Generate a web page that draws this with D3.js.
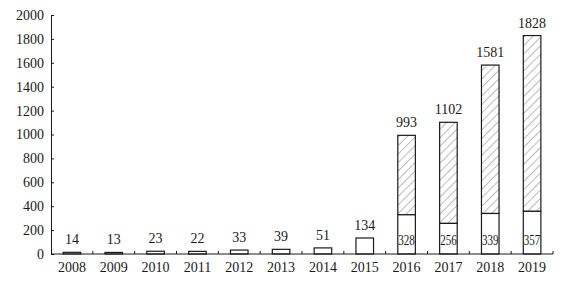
<!DOCTYPE html>
<html>
<head>
<meta charset="utf-8">
<script src="https://cdnjs.cloudflare.com/ajax/libs/d3/7.8.5/d3.min.js"></script>
<style>
  body { margin: 0; background: #fff; }
  text { font-family: "Liberation Serif", "Times New Roman", serif; fill: #1a1a1a; }
</style>
</head>
<body>
<div id="chart"></div>
<script>
var years = ['2008', '2009', '2010', '2011', '2012', '2013', '2014', '2015', '2016', '2017', '2018', '2019'];
var totals = [14, 13, 23, 22, 33, 39, 51, 134, 993, 1102, 1581, 1828];
// lower (plain) part of the stacked bars, null where the bar is not split
var lower = [null, null, null, null, null, null, null, null, 328, 256, 339, 357];
var yTicks = [0, 200, 400, 600, 800, 1000, 1200, 1400, 1600, 1800, 2000];

var W = 581,
    H = 294,
    margin = {top: 15, right: 28, bottom: 40, left: 51},
    INK = '#1a1a1a';

var svg = d3.select('#chart')
  .append('svg')
  .attr('width', W)
  .attr('height', H);

var defs = svg.append('defs');
defs.append('pattern')
  .attr('id', 'hatch')
  .attr('patternUnits', 'userSpaceOnUse')
  .attr('width', 6)
  .attr('height', 6)
  .attr('patternTransform', 'rotate(45)')
  .append('line')
  .attr('x1', 0).attr('y1', 0)
  .attr('x2', 0).attr('y2', 6)
  .attr('stroke', '#555')
  .attr('stroke-width', 0.8);

var x = d3.scaleBand()
  .domain(years)
  .range([margin.left, W - margin.right])
  .paddingInner(0.58)
  .paddingOuter(0.29);

var y = d3.scaleLinear()
  .domain([0, 2000])
  .range([H - margin.bottom, margin.top]);

var rows = years.map(function (yr, i) {
  return {year: yr, total: totals[i], lower: lower[i]};
});

// bars
var g = svg.append('g');

// hatched upper part
g.selectAll('rect.upper')
  .data(rows.filter(function (d) { return d.lower !== null; }))
  .enter()
  .append('rect')
  .attr('class', 'upper')
  .attr('x', function (d) { return x(d.year); })
  .attr('y', function (d) { return y(d.total); })
  .attr('width', x.bandwidth())
  .attr('height', function (d) { return y(d.lower) - y(d.total); })
  .attr('fill', 'url(#hatch)')
  .attr('stroke', INK)
  .attr('stroke-width', 1.2);

// plain part (whole bar when not split)
g.selectAll('rect.lower')
  .data(rows)
  .enter()
  .append('rect')
  .attr('class', 'lower')
  .attr('x', function (d) { return x(d.year); })
  .attr('y', function (d) { return y(d.lower !== null ? d.lower : d.total); })
  .attr('width', x.bandwidth())
  .attr('height', function (d) { return y(0) - y(d.lower !== null ? d.lower : d.total); })
  .attr('fill', '#fff')
  .attr('stroke', INK)
  .attr('stroke-width', 1.2);

// total labels
g.selectAll('text.total')
  .data(rows)
  .enter()
  .append('text')
  .attr('class', 'total')
  .attr('x', function (d) { return x(d.year) + x.bandwidth() / 2; })
  .attr('y', function (d) { return y(d.total) - 8; })
  .attr('text-anchor', 'middle')
  .style('font-size', '14px')
  .text(function (d) { return d.total; });

// lower part labels inside bar
g.selectAll('text.lowerLabel')
  .data(rows.filter(function (d) { return d.lower !== null; }))
  .enter()
  .append('text')
  .attr('class', 'lowerLabel')
  .attr('x', function (d) { return x(d.year) + 0.5; })
  .attr('y', y(0) - 9)
  .attr('textLength', x.bandwidth() - 1)
  .attr('lengthAdjust', 'spacingAndGlyphs')
  .style('font-size', '14px')
  .text(function (d) { return d.lower; });

// y axis
var yAxis = svg.append('g')
  .attr('transform', 'translate(' + margin.left + ',0)')
  .call(d3.axisLeft(y).tickValues(yTicks).tickFormat(d3.format('d'))
    .tickSizeInner(-3).tickSizeOuter(0).tickPadding(7));
yAxis.select('.domain').attr('stroke', INK);
yAxis.selectAll('.tick line').attr('stroke', INK);
yAxis.selectAll('.tick text')
  .style('font-size', '14px')
  .attr('fill', INK);

// x axis, ticks between categories
var xAxisG = svg.append('g')
  .attr('transform', 'translate(0,' + y(0) + ')');
xAxisG.append('line')
  .attr('x1', margin.left)
  .attr('x2', W - margin.right)
  .attr('stroke', INK);
var step = x.step();
var edges = d3.range(1, years.length + 1).map(function (i) { return margin.left + i * step; });
xAxisG.selectAll('line.sep')
  .data(edges)
  .enter()
  .append('line')
  .attr('class', 'sep')
  .attr('x1', function (d) { return d; })
  .attr('x2', function (d) { return d; })
  .attr('y1', 0)
  .attr('y2', -3)
  .attr('stroke', INK);
xAxisG.selectAll('text')
  .data(years)
  .enter()
  .append('text')
  .attr('x', function (d) { return x(d) + x.bandwidth() / 2; })
  .attr('y', 18)
  .attr('text-anchor', 'middle')
  .style('font-size', '14px')
  .text(function (d) { return d; });
</script>
</body>
</html>
